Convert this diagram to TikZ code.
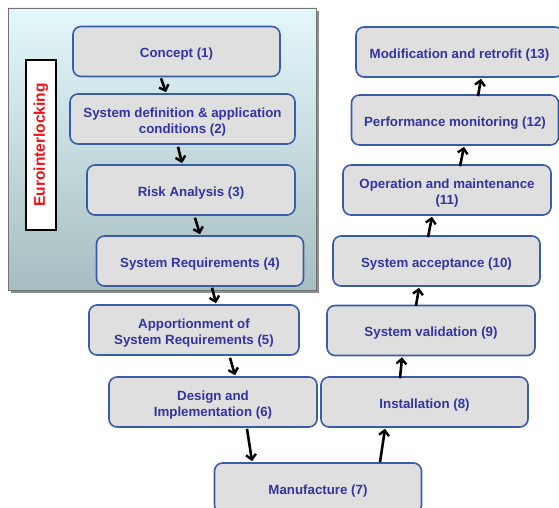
\documentclass[tikz,border=0pt]{standalone}
\usepackage{fontspec}
\setmainfont{Liberation Sans}
\usetikzlibrary{arrows.meta}
\definecolor{boxfill}{HTML}{DFDFDF}
\definecolor{boxline}{HTML}{3A5BA6}
\definecolor{boxtext}{HTML}{3434A0}
\definecolor{paneltop}{HTML}{E4F8FC}
\definecolor{panelbot}{HTML}{A6BEC1}
\definecolor{eurored}{HTML}{F01010}
% one life-cycle stage: #1 name, #2 centre, #3 width, #4 caption
\newcommand\lcstage[4]{%
  \node[stagebox,minimum width=#3] (#1) at (#2) {};
  \node[stagetext] (#1-text) at ([yshift=-3pt]#1.center) {#4};}
\begin{document}
\begin{tikzpicture}[x=1pt,y=-1pt,
  stagebox/.style={draw=boxline,line width=1.6pt,fill=boxfill,rounded corners=8pt,
    minimum height=50pt,inner sep=0pt},
  stagetext/.style={align=center,text=boxtext,inner sep=0pt,
    font=\fontsize{13.3}{16}\selectfont\bfseries},
  flow/.style={line width=2.6pt,-{Straight Barb[length=5pt,width=10pt,line width=2.4pt]}}]
\useasboundingbox (0,0) rectangle (559,508);
\clip (0,0) rectangle (559,508);
% shaded panel behind the first four stages
\fill[black!45] (11,11) rectangle (319,293);
\shade[top color=paneltop,bottom color=panelbot,draw=black!55,line width=0.6pt]
  (8,8) rectangle (316,290);
% vertical label
\node[draw=black,line width=2pt,fill=white,minimum width=30pt,minimum height=170pt,inner sep=0pt]
  (euro) at (41,145) {};
\node[rotate=90,text=eurored,font=\fontsize{15.5}{18}\selectfont\bfseries] (eurotext) at (euro.center) {Eurointerlocking};
% stages of the life cycle
\lcstage{s1}{176.5,51.5}{207pt}{Concept (1)}
\lcstage{s2}{182.5,119}{225pt}{System definition \& application\\conditions (2)}
\lcstage{s3}{191,190}{208pt}{Risk Analysis (3)}
\lcstage{s4}{200,261}{207pt}{System Requirements (4)}
\lcstage{s5}{194,330}{210pt}{Apportionment of\\System Requirements (5)}
\lcstage{s6}{213,402}{208pt}{Design and\\Implementation (6)}
\lcstage{s7}{318,488}{207pt}{Manufacture (7)}
\lcstage{s8}{424.5,402}{207pt}{Installation (8)}
\lcstage{s9}{431,330.5}{208pt}{System validation (9)}
\lcstage{s10}{436.5,261}{207pt}{System acceptance (10)}
\lcstage{s11}{447,190}{208pt}{Operation and maintenance\\(11)}
\lcstage{s12}{455,120}{207pt}{Performance monitoring (12)}
\lcstage{s13}{459.5,52}{207pt}{Modification and retrofit (13)}
% connectors
\draw[flow] ([xshift=-15.5pt,yshift=-1pt]s1.south) -- ([xshift=-16.5pt,yshift=1pt]s2.north);
\draw[flow] ([xshift=-4.5pt,yshift=-2pt]s2.south) -- ([xshift=-9pt,yshift=1pt]s3.north);
\draw[flow] ([xshift=4pt,yshift=-2pt]s3.south) -- ([xshift=0pt,yshift=1pt]s4.north);
\draw[flow] ([xshift=12pt,yshift=-1pt]s4.south) -- ([xshift=22pt,yshift=1pt]s5.north);
\draw[flow] ([xshift=36pt,yshift=-2pt]s5.south) -- ([xshift=22pt,yshift=1pt]s6.north);
\draw[flow] ([xshift=34pt,yshift=-1pt]s6.south) -- ([xshift=-66pt,yshift=1pt]s7.north);
\draw[flow] ([xshift=62pt,yshift=0pt]s7.north) -- ([xshift=-39.5pt,yshift=-1pt]s8.south);
\draw[flow] ([xshift=-24.5pt,yshift=-2pt]s8.north) -- ([xshift=-29pt,yshift=-1pt]s9.south);
\draw[flow] ([xshift=-15pt,yshift=-1pt]s9.north) -- ([xshift=-17.5pt,yshift=-1pt]s10.south);
\draw[flow] ([xshift=-8.5pt,yshift=-2pt]s10.north) -- ([xshift=-15pt,yshift=-1pt]s11.south);
\draw[flow] ([xshift=13pt,yshift=-2pt]s11.north) -- ([xshift=9pt,yshift=-1pt]s12.south);
\draw[flow] ([xshift=23pt,yshift=-2pt]s12.north) -- ([xshift=21.5pt,yshift=-1pt]s13.south);
\end{tikzpicture}
\end{document}
